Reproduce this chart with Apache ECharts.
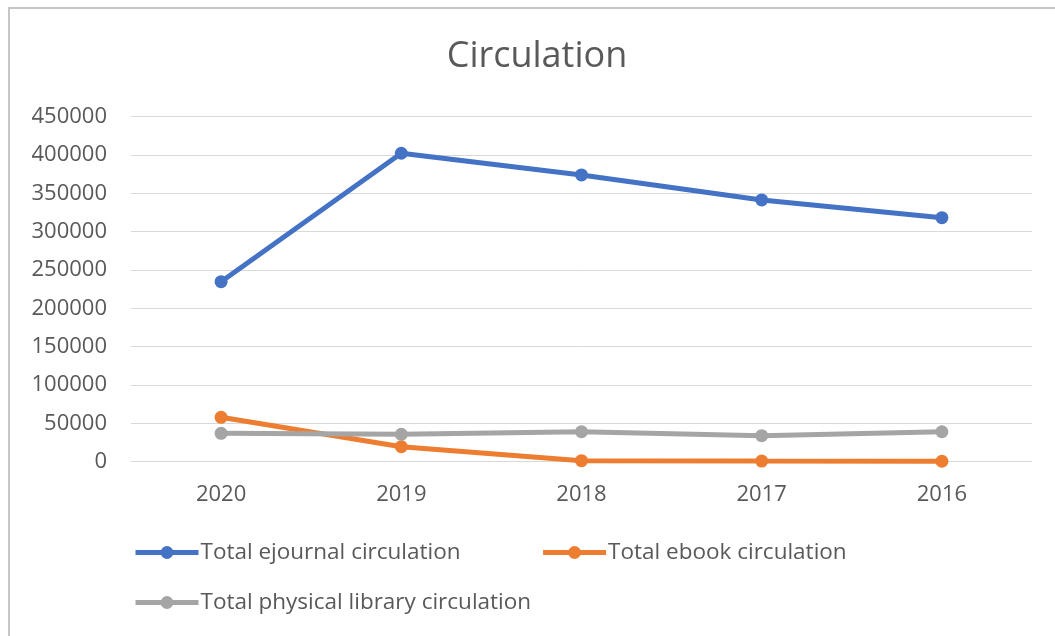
<!DOCTYPE html>
<html>
<head>
<meta charset="utf-8">
<script src="https://cdn.jsdelivr.net/npm/echarts@6/dist/echarts.min.js"></script>
<style>
  html, body { margin: 0; padding: 0; background: #fff; }
  #frame { position: absolute; left: 8px; top: 7px; width: 1047px; height: 629px; border-top: 2px solid #c6c6c6; border-left: 2px solid #c6c6c6; }
  #chart { position: absolute; left: 0; top: 0; width: 1055px; height: 636px; }
</style>
</head>
<body>
<div id="frame"></div>
<div id="chart"></div>
<script>
const years = ['2020', '2019', '2018', '2017', '2016'];
const ejournal = [234800, 402300, 374000, 341400, 318300];
const ebook = [57900, 19600, 1300, 800, 600];
const physical = [37000, 35700, 39100, 33900, 39100];

const font = '"Open Sans", sans-serif';
const grey = '#595959';

const mk = (name, data, color) => ({
  name, type: 'line', data,
  symbol: 'circle', symbolSize: 13,
  lineStyle: { color, width: 5 },
  itemStyle: { color },
  emphasis: { disabled: true }
});

const legendText = { color: grey, fontFamily: font, fontSize: 22.5, padding: [0, 0, 0, -3] };

const chart = echarts.init(document.getElementById('chart'), null, { renderer: 'canvas' });
chart.setOption({
  backgroundColor: 'transparent',
  animation: false,
  title: {
    text: 'Circulation', left: 532, top: 34, textAlign: 'center',
    textStyle: { fontFamily: font, fontSize: 36, fontWeight: 'normal', color: grey }
  },
  grid: { left: 131, right: 23, top: 116.7, bottom: 174.3 },
  xAxis: {
    type: 'category', data: years,
    axisLine: { lineStyle: { color: '#d9d9d9', width: 1 } },
    axisTick: { show: false },
    axisLabel: { color: grey, fontFamily: font, fontSize: 22, margin: 22 }
  },
  yAxis: {
    type: 'value', min: 0, max: 450000, interval: 50000,
    axisLine: { show: false }, axisTick: { show: false },
    axisLabel: { color: grey, fontFamily: font, fontSize: 22, margin: 24, formatter: v => String(v) },
    splitLine: { lineStyle: { color: '#d9d9d9', width: 1 } }
  },
  legend: [
    {
      data: ['Total ejournal circulation', 'Total ebook circulation'],
      left: 133, top: 541, padding: 0, itemWidth: 63, itemHeight: 16, itemGap: 80,
      lineStyle: { width: 5 },
      textStyle: legendText
    },
    {
      data: ['Total physical library circulation'],
      left: 133, top: 591, padding: 0, itemWidth: 63, itemHeight: 16,
      lineStyle: { width: 5 },
      textStyle: legendText
    }
  ],
  series: [
    mk('Total ejournal circulation', ejournal, '#4472c4'),
    mk('Total ebook circulation', ebook, '#ed7d31'),
    mk('Total physical library circulation', physical, '#a5a5a5')
  ]
});
</script>
</body>
</html>
